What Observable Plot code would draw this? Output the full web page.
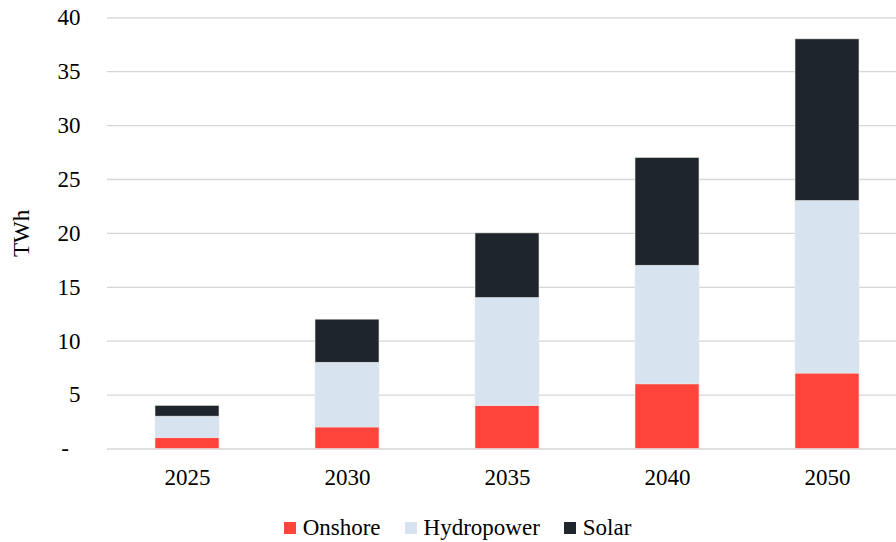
<!DOCTYPE html>
<html>
<head>
<meta charset="utf-8">
<script src="https://cdn.jsdelivr.net/npm/d3@7"></script>
<script src="https://cdn.jsdelivr.net/npm/@observablehq/plot@0.6"></script>
<style>
  html, body { margin: 0; padding: 0; background: #fff; }
  #chart { width: 896px; }
  #legend { display: flex; justify-content: center; padding-left: 19px; margin-top: 10px; }
  #legend .item { display: flex; align-items: center; margin: 0 12px; font-family: "Liberation Serif", Tinos, "Times New Roman", Times, "DejaVu Serif", serif; font-size: 23px; color: #000; }
  #legend .sw { width: 12px; height: 12px; margin-right: 7px; }
</style>
</head>
<body>
<div id="chart"></div>
<script>
// Electricity generation by source, TWh
const years = ["2025", "2030", "2035", "2040", "2050"];
const seriesNames = ["Onshore", "Hydropower", "Solar"];
const onshore = [1, 2, 4, 6, 7];
const hydropower = [2, 6, 10, 11, 16];
const solar = [1, 4, 6, 10, 15];
const seriesColors = ["#FE443B", "#D7E4EF", "#1F252D"];
const yTicks = [0, 5, 10, 15, 20, 25, 30, 35, 40];

const serifFont = '"Liberation Serif", Tinos, "Times New Roman", Times, "DejaVu Serif", serif';

const seriesValues = [onshore, hydropower, solar];
const rows = seriesNames.flatMap((s, i) =>
  years.map((y, j) => ({year: y, source: s, value: seriesValues[i][j]}))
);

const chart = Plot.plot({
  width: 896,
  height: 505,
  marginLeft: 107,
  marginRight: 0,
  marginTop: 17.3,
  marginBottom: 56.5,
  style: {fontFamily: serifFont, fontSize: "23px", color: "#000", background: "#fff"},
  x: {domain: years, range: [107, 907], paddingInner: 0.6, paddingOuter: 0.3, label: null},
  y: {domain: [0, 40], label: null},
  color: {domain: seriesNames, range: seriesColors},
  marks: [
    Plot.gridY(yTicks, {stroke: "#d6d6d6", strokeOpacity: 1, strokeWidth: 1.3}),
    Plot.barY(rows, {
      x: "year", y: "value", fill: "source", order: seriesNames,
      stroke: "#e8e8e8", strokeWidth: 0.6
    }),
    Plot.axisY(yTicks, {
      tickSize: 0, tickPadding: 27,
      tickFormat: d => d === 0 ? "-\u2007" : String(d),
      label: "TWh", labelAnchor: "center", labelArrow: "none", labelOffset: 95
    }),
    Plot.axisX({tickSize: 0, tickPadding: 20, label: null})
  ]
});
chart.setAttribute("font-family", serifFont);
document.getElementById("chart").appendChild(chart);

// Legend below the plot
const legend = document.createElement("div");
legend.id = "legend";
seriesNames.forEach((name, i) => {
  const item = document.createElement("div");
  item.className = "item";
  const sw = document.createElement("span");
  sw.className = "sw";
  sw.style.background = seriesColors[i];
  item.appendChild(sw);
  item.appendChild(document.createTextNode(name));
  legend.appendChild(item);
});
document.getElementById("chart").appendChild(legend);
</script>
</body>
</html>
